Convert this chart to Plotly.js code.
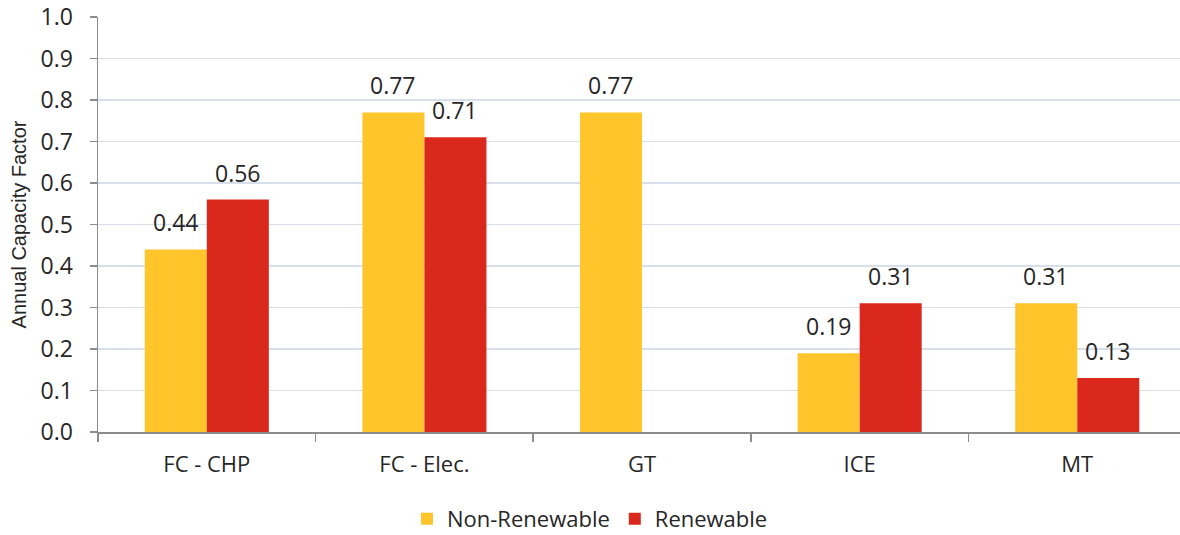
<!DOCTYPE html>
<html>
<head>
<meta charset="utf-8">
<script src="https://cdn.plot.ly/plotly-3.0.1.min.js"></script>
<style>
  html, body { margin: 0; padding: 0; background: #fff; }
  #chart { width: 1180px; height: 535px; }
</style>
</head>
<body>
<div id="chart"></div>
<script>
// Annual capacity factor by technology
const technologies = ['FC - CHP', 'FC - Elec.', 'GT', 'ICE', 'MT'];
const nonRenewable = [0.44, 0.77, 0.77, 0.19, 0.31];
const renewable    = [0.56, 0.71, null, 0.31, 0.13];
const yTicks = [0, 0.1, 0.2, 0.3, 0.4, 0.5, 0.6, 0.7, 0.8, 0.9, 1.0];

const FONT = 'Open Sans, Lato, sans-serif';
const TITLE_FONT = 'Liberation Sans, Arial, sans-serif';
const TEXT = '#262626';
const YELLOW = '#FFC52B';
const RED = '#DA291C';
const SIZE = 23;

const traces = [
  { type: 'bar', name: 'Non-Renewable', x: technologies, y: nonRenewable,
    marker: { color: YELLOW }, hoverinfo: 'skip' },
  { type: 'bar', name: 'Renewable', x: technologies, y: renewable,
    marker: { color: RED }, hoverinfo: 'skip' }
];

// value labels above each bar, offset to the bar's slot in the group
const barPx = 62;
const annotations = [];
[[nonRenewable, -barPx / 2], [renewable, barPx / 2]].forEach(([vals, dx]) => {
  vals.forEach((v, i) => {
    if (v === null) return;
    annotations.push({
      x: technologies[i], y: v, xref: 'x', yref: 'y',
      xshift: dx, yshift: 9, yanchor: 'bottom', showarrow: false,
      text: v.toFixed(2), font: { family: FONT, size: SIZE, color: TEXT }
    });
  });
});

const layout = {
  width: 1180, height: 535,
  margin: { l: 98, r: 0, t: 17, b: 103 },
  paper_bgcolor: '#ffffff', plot_bgcolor: '#ffffff',
  barmode: 'group', bargap: 0.43, bargroupgap: 0,
  font: { family: FONT, color: TEXT, size: SIZE },
  xaxis: {
    type: 'category', range: [-0.5, 4.472],
    tickson: 'boundaries', ticks: 'outside', ticklen: 8, tickwidth: 1.5,
    tickcolor: '#8c8c8c', showline: true, linecolor: '#8c8c8c', linewidth: 1.5,
    showgrid: false, tickfont: { family: FONT, size: 22, color: TEXT },
    ticklabelstandoff: 12
  },
  yaxis: {
    range: [0, 1], tickvals: yTicks, ticktext: yTicks.map(v => v.toFixed(1)),
    ticks: 'outside', ticklen: 7, tickwidth: 1.5, tickcolor: '#8c8c8c',
    showline: true, linecolor: '#8c8c8c', linewidth: 1.5,
    showgrid: true, gridcolor: '#d6dfea', gridwidth: 1.5, zeroline: false,
    tickfont: { family: FONT, size: SIZE, color: TEXT },
    ticklabelstandoff: 12,
    title: { text: 'Annual Capacity Factor', font: { family: TITLE_FONT, size: 20, color: TEXT }, standoff: 8 }
  },
  legend: {
    orientation: 'h', xref: 'container', yref: 'container',
    x: 0.5, xanchor: 'center', y: 0.03, yanchor: 'middle',
    font: { family: FONT, size: 22, color: TEXT }
  },
  annotations: annotations,
  showlegend: true
};

Plotly.newPlot('chart', traces, layout, { displayModeBar: false, staticPlot: true });
</script>
</body>
</html>
